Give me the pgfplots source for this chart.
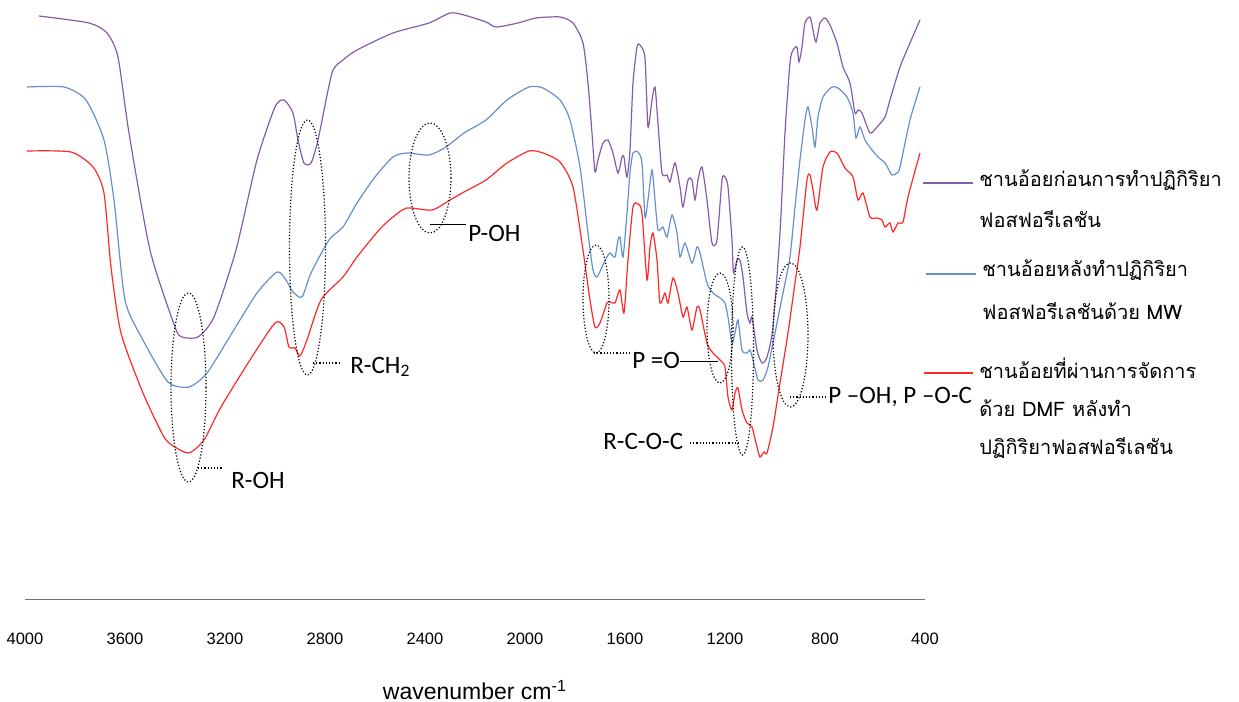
\documentclass[border=0pt]{standalone}
\usepackage{fontspec}
\setmainfont{Liberation Sans}
\newfontfamily\calfont{Carlito}
\newfontfamily\thaifont[Script=Thai]{Loma}
\usepackage{pgfplots}
\pgfplotsset{compat=1.18}
\definecolor{cpur}{RGB}{132,92,172}
\definecolor{cblu}{RGB}{100,145,205}
\definecolor{cred}{RGB}{255,40,40}
\tikzset{dots/.style={black, line width=0.6pt, dash pattern=on 0.6pt off 1.0pt},
  ann/.style={font=\calfont\fontsize{12.5}{14}\selectfont, inner sep=0pt, anchor=west},
  leg/.style={font=\thaifont\fontsize{10}{12}\selectfont, inner sep=0pt, anchor=west}}
\begin{document}
\begin{tikzpicture}
\useasboundingbox (0,0) rectangle (619.5pt,351pt);
\begin{axis}[
  at={(12.5pt,51pt)}, anchor=south west,
  scale only axis, width=450pt, height=300pt,
  xmin=400, xmax=4000, x dir=reverse, ymin=0, ymax=600,
  axis x line*=bottom, axis y line=none,
  x axis line style={draw=black!55, line width=0.5pt, -},
  xtick={400,800,...,4000}, major tick length=0pt,
  xticklabel style={font=\fontsize{8.25}{9}\selectfont, anchor=north, inner sep=0pt, yshift=-16.5pt},
  /pgf/number format/assume math mode=true,
  /pgf/number format/1000 sep={},
  xlabel={wavenumber cm\textsuperscript{-1}},
  xlabel style={font=\fontsize{11.5}{13}\selectfont, at={(axis description cs:0.5,0)}, anchor=center, yshift=-45pt},
  clip=false,
  every axis plot/.append style={line width=0.6pt, smooth, tension=0.4, mark=none},
]
% purple: before phosphorylation
\addplot[cpur] coordinates {(3944,584)(3744,577)(3672,567)(3628,543)(3584,467)(3500,350)(3400,273)(3372,263)(3308,263)(3244,283)(3156,350)(3072,440)(3000,493)(2964,500)(2928,487)(2908,460)(2884,437)(2856,437)(2828,460)(2772,527)(2728,540)(2672,550)(2528,567)(2384,577)(2300,587)(2244,585)(2156,578)(2116,573)(2028,577)(1956,582)(1860,583)(1808,577)(1768,557)(1748,517)(1732,467)(1720,428)(1708,440)(1688,457)(1668,460)(1648,447)(1628,427)(1612,443)(1604,443)(1592,423)(1580,450)(1568,517)(1552,553)(1540,555)(1520,542)(1508,473)(1492,500)(1480,513)(1468,477)(1452,427)(1432,425)(1420,418)(1400,437)(1380,413)(1368,393)(1348,420)(1332,420)(1320,400)(1308,420)(1292,433)(1272,400)(1252,357)(1232,360)(1212,420)(1200,423)(1188,413)(1172,360)(1166,327)(1152,340)(1140,340)(1128,323)(1112,287)(1100,277)(1092,283)(1072,250)(1052,237)(1032,243)(1008,273)(980,367)(960,467)(940,537)(928,550)(912,553)(904,538)(892,553)(880,577)(860,583)(848,570)(836,558)(820,577)(800,582)(780,575)(752,557)(728,533)(700,517)(680,487)(668,490)(652,487)(620,467)(592,473)(560,483)(540,500)(500,533)(460,557)(420,580)};
% blue: after phosphorylation with MW
\addplot[cblu] coordinates {(3992,513)(3844,513)(3756,500)(3684,460)(3644,400)(3600,300)(3528,260)(3428,218)(3344,213)(3272,227)(3172,267)(3072,307)(2992,328)(2956,320)(2928,308)(2892,303)(2856,327)(2784,360)(2728,373)(2672,397)(2600,423)(2528,443)(2472,447)(2384,445)(2316,453)(2244,467)(2156,480)(2072,500)(1984,513)(1928,512)(1860,500)(1820,480)(1780,433)(1748,367)(1728,330)(1712,323)(1692,333)(1672,343)(1660,347)(1640,343)(1628,360)(1620,363)(1608,343)(1592,387)(1580,427)(1568,447)(1548,448)(1532,437)(1520,383)(1508,400)(1492,430)(1480,400)(1468,370)(1448,373)(1432,363)(1412,385)(1392,367)(1380,343)(1360,357)(1332,337)(1312,353)(1300,347)(1272,317)(1248,307)(1220,302)(1200,297)(1188,283)(1172,257)(1160,267)(1148,280)(1132,250)(1112,247)(1100,250)(1088,240)(1068,220)(1048,220)(1028,233)(1000,267)(968,307)(940,343)(920,393)(900,440)(880,480)(868,493)(852,473)(840,453)(828,483)(808,503)(772,513)(748,512)(712,503)(688,487)(676,462)(660,473)(640,460)(612,450)(588,443)(560,437)(532,425)(512,427)(500,433)(460,480)(420,513)};
% red: DMF treated, after phosphorylation
\addplot[cred] coordinates {(3992,449)(3816,448)(3728,433)(3684,407)(3656,333)(3616,267)(3528,207)(3444,163)(3400,153)(3344,147)(3284,160)(3216,193)(3100,240)(3000,277)(2964,273)(2944,253)(2920,252)(2900,244)(2872,260)(2816,300)(2728,323)(2672,343)(2584,370)(2528,383)(2472,392)(2372,390)(2300,400)(2244,408)(2156,420)(2072,437)(1984,449)(1928,447)(1860,438)(1808,413)(1768,350)(1740,300)(1720,273)(1700,277)(1672,297)(1660,298)(1640,297)(1620,310)(1604,287)(1588,340)(1568,393)(1548,396)(1532,387)(1512,320)(1500,353)(1488,367)(1472,340)(1460,297)(1440,307)(1428,297)(1408,322)(1388,307)(1368,283)(1352,293)(1332,270)(1312,293)(1300,290)(1272,257)(1248,247)(1220,240)(1200,233)(1188,203)(1172,190)(1160,207)(1148,212)(1132,190)(1112,177)(1092,173)(1072,153)(1060,143)(1044,148)(1032,147)(1008,173)(980,217)(948,267)(920,317)(900,353)(872,420)(860,425)(848,410)(832,390)(808,433)(780,448)(752,447)(720,432)(688,423)(668,400)(648,407)(620,383)(592,382)(572,380)(560,373)(540,377)(528,368)(508,377)(488,378)(468,403)(420,447)};
\end{axis}
\begin{scope}[x=0.5pt, y=-0.5pt, shift={(0pt,351pt)}]
% R-OH
\draw[dots] (188.5,387.5) ellipse [x radius=8.75pt, y radius=47.25pt];
\draw[dots] (198,468) -- (223,468);
\node[ann] at (231,480) {R-OH};
% R-CH2
\draw[dots] (307.5,247.5) ellipse [x radius=9pt, y radius=63.75pt];
\draw[dots] (313,363) -- (341,363);
\node[ann] at (350,367) {R-CH\textsubscript{2}};
% P-OH
\draw[dots] (430,178) ellipse [x radius=10.5pt, y radius=27.5pt];
\draw[black, line width=0.5pt] (430,225) -- (466,225);
\node[ann] at (468,233) {P-OH};
% P=O
\draw[dots] (596,299) ellipse [x radius=6.5pt, y radius=27pt];
\draw[dots] (720,328) ellipse [x radius=6.5pt, y radius=27.5pt];
\draw[dots] (594,353) -- (630,353);
\node[ann] at (632,360) {P =O};
\draw[black, line width=0.5pt] (680,362) -- (718,362);
% R-C-O-C
\draw[dots] (742.5,351) ellipse [x radius=5.5pt, y radius=52pt];
\draw[dots] (690,443) -- (740,443);
\node[ann] at (603,441) {R-C-O-C};
% P-OH, P-O-C
\draw[dots] (790.5,335) ellipse [x radius=8.75pt, y radius=36pt];
\draw[dots] (790,397) -- (826,397);
\node[ann] at (828,397) {P –OH, P –O-C};
% legend
\draw[cpur, line width=0.6pt] (923,183) -- (973,183);
\node[leg] at (979,180) {ชานอ้อยก่อนการทำปฏิกิริยา};
\node[leg] at (979,219) {ฟอสฟอรีเลชัน};
\draw[cblu, line width=0.6pt] (926,274) -- (976,274);
\node[leg] at (982,270) {ชานอ้อยหลังทำปฏิกิริยา};
\node[leg] at (982,311) {ฟอสฟอรีเลชันด้วย MW};
\draw[cred, line width=0.6pt] (924,373) -- (973,373);
\node[leg] at (979,368) {ชานอ้อยที่ผ่านการจัดการ};
\node[leg] at (979,408) {ด้วย DMF หลังทำ};
\node[leg] at (979,448) {ปฏิกิริยาฟอสฟอรีเลชัน};
\end{scope}
\end{tikzpicture}
\end{document}
